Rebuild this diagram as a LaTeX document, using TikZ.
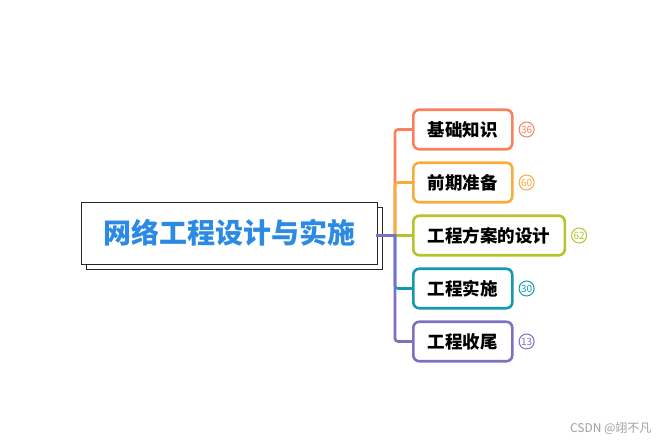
\documentclass[tikz,border=0pt]{standalone}
\usepackage{fontspec}
\setmainfont{Noto Sans CJK SC}
\usetikzlibrary{positioning,shadows}
\definecolor{titleblue}{HTML}{2B8BE4}
\definecolor{coralc}{HTML}{F9805A}
\definecolor{orangec}{HTML}{FBAA3C}
\definecolor{greenc}{HTML}{B4C42A}
\definecolor{tealc}{HTML}{1598B2}
\definecolor{purplec}{HTML}{7A71C3}

\begin{document}
\begin{tikzpicture}[x=1pt,y=-1pt,
  topic/.style={draw=#1,line width=2.6pt,rounded corners=6pt,fill=white,anchor=west,
    minimum height=39.5pt,inner xsep=14.5pt,font=\fontsize{17.5}{20}\selectfont\bfseries},
  badge/.style={circle,draw=#1,text=#1,line width=1pt,minimum size=15pt,inner sep=0pt,
    font=\fontsize{10}{10}\selectfont},
  branch/.style={draw=#1,line width=2.6pt,line cap=rect,rounded corners=3pt}]
\useasboundingbox (0,0) rectangle (670,443);
\node[draw=black!85,fill=white,line width=0.8pt,minimum width=296pt,minimum height=62pt,
  copy shadow={shadow xshift=5pt,shadow yshift=-5pt,draw=black!85,fill=white,line width=0.8pt},
  text=titleblue,font=\fontsize{28}{30}\selectfont\bfseries] (root) at (229,233) {网络工程设计与实施};
\coordinate (hub) at (395,235.5);

\node[topic=coralc] (b1) at (412,129.5) {基础知识};
\node[topic=orangec] (b2) at (412,182.5) {前期准备};
\node[topic=greenc] (b3) at (412,235.5) {工程方案的设计};
\node[topic=tealc] (b4) at (412,288.5) {工程实施};
\node[topic=purplec] (b5) at (412,341.5) {工程收尾};

\node[badge=coralc, right=5pt of b1] (n1) {36};
\node[badge=orangec, right=5pt of b2] (n2) {60};
\node[badge=greenc, right=5pt of b3] (n3) {62};
\node[badge=tealc, right=5pt of b4] (n4) {30};
\node[badge=purplec, right=5pt of b5] (n5) {13};

\draw[branch=coralc] (hub) |- (b1.west);
\draw[branch=orangec] (hub) |- (b2.west);
\draw[branch=greenc] (hub) -- (b3.west);
\draw[branch=tealc] (hub) |- (b4.west);
\draw[branch=purplec] (hub) |- (b5.west);
\draw[branch=purplec] (root.east |- hub) -- (hub);

\node[text=gray!75,anchor=east,font=\fontsize{12}{14}\selectfont] (mark) at (655,429) {CSDN @翊不凡};
\end{tikzpicture}
\end{document}
